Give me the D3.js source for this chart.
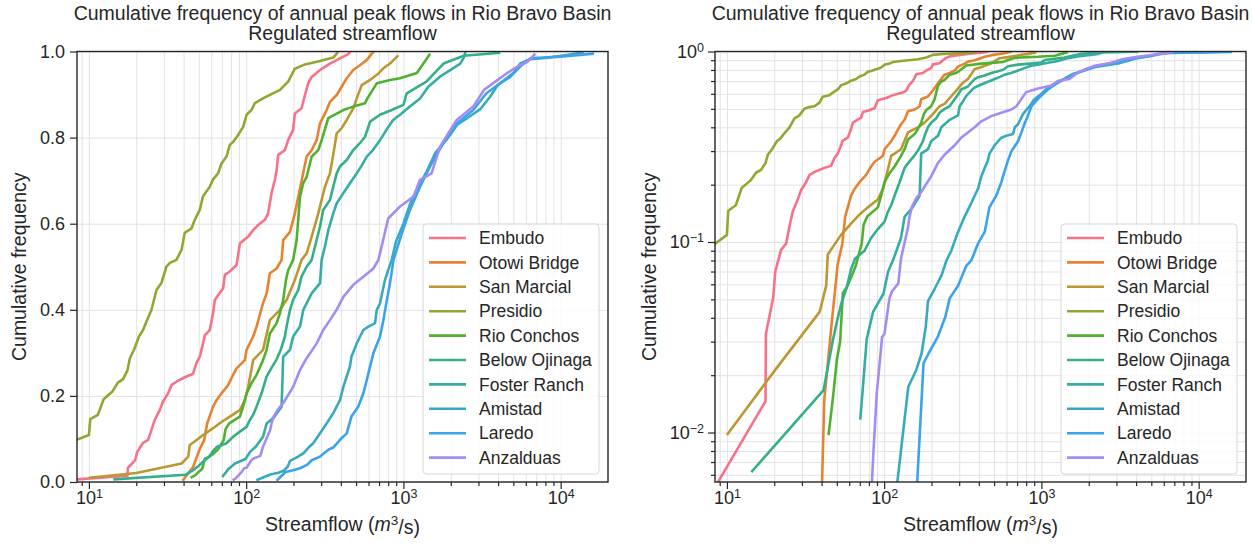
<!DOCTYPE html>
<html>
<head>
<meta charset="utf-8">
<script src="https://cdn.jsdelivr.net/npm/d3@7"></script>
<style>
  body { margin: 0; background: #ffffff; }
  svg { font-family: "Liberation Sans", Arial, Helvetica, sans-serif; }
  .tick text { font-family: "Liberation Sans", Arial, Helvetica, sans-serif; font-size: 18px; fill: #262626; }
  .grid line { stroke: #e3e3e3; stroke-width: 1; }
  .grid path { display: none; }
</style>
</head>
<body>
<svg id="chart" width="1252" height="548"></svg>
<script>
// Station names in legend order, with their line colours
const stationNames = ["Embudo", "Otowi Bridge", "San Marcial", "Presidio", "Rio Conchos",
  "Below Ojinaga", "Foster Ranch", "Amistad", "Laredo", "Anzalduas"];
const stationColors = ["#f77189", "#e68332", "#bb9832", "#97a431", "#50b131",
  "#34af8a", "#36ada4", "#38aabf", "#3ba3ec", "#a48cf4"];

// Empirical cumulative frequency of annual peak flows: [flow m3/s, cumulative frequency]
const embudo = [[7.0,0.004],[17.6,0.0146],[17.7,0.033],[19.7,0.051],[20.3,0.07],[22.1,0.091],[23.8,0.098],
  [25.0,0.121],[26.2,0.144],[28.2,0.167],[29.6,0.187],[31.9,0.206],[33.5,0.225],[36.0,0.233],[41.7,0.245],
  [45.9,0.251],[48.3,0.276],[50.7,0.291],[53.2,0.322],[54.6,0.341],[58.7,0.353],[61.6,0.392],[63.2,0.423],
  [66.3,0.434],[71.4,0.45],[73.2,0.481],[78.7,0.489],[86.9,0.504],[91.2,0.554],[103,0.57],[110.8,0.585],
  [119.2,0.597],[131.5,0.609],[138,0.624],[145,0.671],[152.4,0.702],[156.2,0.725],[159.9,0.76],[176.4,0.771],
  [185,0.794],[199,0.818],[204,0.856],[225,0.868],[236.6,0.899],[248,0.926],[261,0.941],[294.7,0.957],
  [341,0.972],[395,0.984],[446,0.994],[460,1.0]];
const otowiBridge = [[39.5,0.003],[41.6,0.0148],[46,0.035],[50.6,0.076],[54.2,0.098],[56.5,0.136],[61.6,0.175],
  [64.8,0.19],[69.7,0.206],[76.8,0.225],[82.6,0.249],[86.9,0.264],[98.1,0.283],[100.6,0.307],[110.8,0.338],
  [116.5,0.361],[122,0.388],[128,0.415],[134.9,0.438],[141.6,0.485],[156.2,0.496],[168.1,0.516],[172,0.562],
  [190,0.581],[204,0.624],[220,0.682],[242.5,0.756],[261,0.771],[280.7,0.794],[294.7,0.833],[325,0.864],
  [341,0.883],[376.5,0.899],[405,0.918],[436,0.938],[480,0.957],[529,0.968],[584,0.98],[629,0.995],[650,1.0]];
const sanMarcial = [[10,0.0097],[20,0.021],[38.9,0.043],[42.8,0.059],[43.8,0.086],[47.1,0.094],[53.2,0.109],
  [61.6,0.125],[70,0.14],[78.7,0.152],[91.2,0.167],[98.1,0.19],[103,0.221],[110.8,0.283],[128,0.307],
  [141.6,0.376],[164,0.40],[180.8,0.423],[204,0.469],[225,0.516],[242.5,0.531],[261,0.57],[287.5,0.624],
  [317,0.686],[341,0.717],[358,0.76],[376.5,0.81],[405,0.822],[436,0.841],[480,0.868],[505,0.891],
  [543,0.922],[614,0.934],[693,0.949],[746,0.961],[822,0.972],[929,0.991]];
const presidio = [[7.6,0.092],[10.0,0.109],[10.2,0.146],[11.4,0.156],[12.4,0.192],[14.1,0.21],[15.3,0.231],
  [16.5,0.239],[17.6,0.26],[18.2,0.287],[19.5,0.31],[20.8,0.338],[22.1,0.353],[23.2,0.372],[25.0,0.40],
  [26.9,0.446],[28.9,0.462],[31.1,0.50],[32.7,0.509],[36.0,0.516],[38.8,0.539],[40.7,0.579],[44.9,0.589],
  [47.1,0.609],[50.7,0.632],[53.2,0.664],[58.7,0.686],[61.6,0.703],[66.3,0.717],[69.7,0.74],[75.0,0.756],
  [78.7,0.783],[82.6,0.79],[88.9,0.806],[95.7,0.825],[100.6,0.853],[108,0.864],[113.6,0.88],[128,0.891],
  [164,0.911],[185,0.93],[204,0.96],[236.6,0.97],[294.7,0.978],[358,0.986],[385,0.999]];
const rioConchos = [[44.3,0.0097],[47.6,0.0161],[50,0.024],[52.5,0.03],[54.6,0.054],[58,0.058],[62.5,0.067],
  [66,0.075],[70,0.09],[72,0.098],[74,0.123],[78,0.136],[91.2,0.152],[95.7,0.175],[100.6,0.206],[108,0.229],
  [116.5,0.249],[128,0.283],[134.9,0.307],[141.6,0.345],[156.2,0.369],[164,0.392],[172,0.423],[179,0.469],
  [185,0.492],[199,0.516],[209.4,0.562],[220,0.663],[230.7,0.694],[242.5,0.709],[261,0.756],[287.5,0.771],
  [302,0.794],[332.8,0.845],[415,0.864],[480,0.872],[570,0.88],[590,0.891],[677,0.926],[822,0.934],
  [952,0.938],[1217,0.95],[1479,0.995]];
const belowOjinaga = [[14.3,0.0062],[41.2,0.0167],[47,0.03],[50,0.038],[53.2,0.047],[57.9,0.058],[61.6,0.072],
  [65.4,0.082],[75,0.09],[82.6,0.105],[91.2,0.117],[100.6,0.128],[105.6,0.144],[110.8,0.156],[116.5,0.175],
  [125.3,0.206],[134.9,0.245],[145,0.265],[156.2,0.285],[166,0.307],[176.4,0.338],[180.8,0.361],[190,0.40],
  [199,0.423],[214.4,0.446],[225,0.477],[242.5,0.50],[261,0.516],[274,0.547],[294.7,0.593],[309,0.632],
  [341,0.655],[358,0.686],[376.5,0.717],[395,0.733],[436,0.748],[480,0.771],[529,0.787],[570,0.802],
  [614,0.837],[710,0.853],[843,0.864],[1000,0.876],[1050,0.903],[1400,0.93],[1800,0.972],[2420,0.99],
  [4130,0.997]];
const fosterRanch = [[70.5,0.0117],[77.5,0.031],[85,0.043],[99,0.0535],[106,0.07],[115,0.082],[128,0.105],
  [135,0.136],[150,0.15],[168,0.175],[172,0.291],[190,0.307],[199,0.338],[220,0.361],[231,0.40],[261,0.438],
  [295,0.462],[302,0.516],[317,0.547],[333,0.585],[358,0.624],[376,0.647],[415,0.671],[457,0.694],
  [505,0.717],[545,0.736],[585,0.756],[640,0.771],[710,0.794],[780,0.818],[860,0.841],[952,0.853],
  [1100,0.872],[1276,0.891],[1440,0.918],[1700,0.941],[2300,0.972],[2420,0.986],[2480,0.999]];
const amistad = [[116,0.004],[142.5,0.0174],[160,0.0213],[173,0.026],[184,0.036],[190,0.049],[210,0.057],
  [232,0.067],[249,0.08],[267,0.09],[295,0.113],[325,0.136],[358,0.16],[376,0.175],[395,0.19],[415,0.221],
  [436,0.245],[457,0.268],[467,0.291],[505,0.322],[556,0.353],[599,0.361],[660,0.369],[677,0.40],
  [710,0.415],[763,0.469],[800,0.492],[843,0.516],[900,0.56],[1000,0.6],[1100,0.645],[1240,0.685],
  [1400,0.72],[1600,0.765],[1880,0.795],[2200,0.83],[2540,0.845],[3080,0.866],[3560,0.895],[3980,0.922],
  [5000,0.95],[5530,0.972],[6400,0.982],[8000,0.985],[10900,0.992],[14000,0.998]];
const laredo = [[156,0.003],[178,0.0231],[196,0.0269],[220,0.032],[245,0.0405],[261,0.0506],[295,0.059],
  [333,0.075],[358,0.08],[395,0.098],[436,0.113],[467,0.152],[516,0.175],[556,0.206],[585,0.237],
  [613,0.268],[644,0.299],[710,0.338],[746,0.376],[785,0.423],[822,0.462],[865,0.516],[980,0.579],
  [1100,0.632],[1276,0.686],[1478,0.733],[1890,0.802],[2180,0.833],[2780,0.864],[3370,0.903],[4127,0.926],
  [4780,0.941],[5530,0.965],[6400,0.984],[9950,0.988],[16300,0.995]];
const anzalduas = [[82,0.004],[85.4,0.0078],[89.7,0.016],[94,0.024],[97,0.0317],[100.5,0.033],[108,0.0506],
  [112,0.055],[123,0.0607],[128,0.082],[142,0.12],[145,0.136],[150,0.153],[160,0.17],[172,0.183],
  [199,0.221],[220,0.26],[242,0.287],[281,0.322],[309,0.353],[341,0.376],[376,0.40],[415,0.43],[480,0.458],
  [556,0.477],[644,0.496],[693,0.516],[710,0.531],[800,0.612],[952,0.64],[1160,0.663],[1276,0.702],
  [1510,0.717],[1710,0.779],[2180,0.841],[2780,0.872],[3260,0.911],[3980,0.934],[4570,0.95],[5300,0.965],
  [6140,0.976],[6900,0.995]];

const stationSeries = [embudo, otowiBridge, sanMarcial, presidio, rioConchos,
  belowOjinaga, fosterRanch, amistad, laredo, anzalduas];

// Axis ticks
const flowTicks = [10, 100, 1000, 10000];
const flowTickExponents = ["1", "2", "3", "4"];
const linearFreqTicks = [0, 0.2, 0.4, 0.6, 0.8, 1.0];
const logFreqTicks = [0.01, 0.1, 1];
const logFreqTickExponents = ["\u22122", "\u22121", "0"];

const titleLines = ["Cumulative frequency of annual peak flows in Rio Bravo Basin", "Regulated streamflow"];

// ---- layout ----
const svg = d3.select("#chart");
const ink = "#262626";
const flowDomain = [8.4, 20000];
const panels = [
  { id: "lin", left: 77, right: 608, top: 51.5, bottom: 482, logY: false },
  { id: "log", left: 715, right: 1246, top: 51.5, bottom: 482, logY: true }
];

function minorLogTicks(lo, hi) {
  const out = [];
  for (let e = -4; e <= 5; e++) {
    for (let m = 2; m <= 9; m++) {
      const v = m * Math.pow(10, e);
      if (v >= lo && v <= hi) out.push(v);
    }
  }
  return out;
}

function superscriptLabels(axisG, exps) {
  axisG.selectAll(".tick text").each(function (d, i) {
    const t = d3.select(this);
    t.text(null);
    t.append("tspan").text("10");
    t.append("tspan").attr("dy", "-0.5em").attr("font-size", "12.5px").style("font-size", "12.5px").text(exps[i]);
  });
}

panels.forEach(p => {
  const w = p.right - p.left, h = p.bottom - p.top;
  const g = svg.append("g").attr("transform", `translate(${p.left},${p.top})`);

  const x = d3.scaleLog().domain(flowDomain).range([0, w]);
  const y = p.logY
    ? d3.scaleLog().domain([0.0055, 1]).range([h, 0])
    : d3.scaleLinear().domain([0, 1]).range([h, 0]);

  const xMinor = minorLogTicks(flowDomain[0], flowDomain[1] * 0.999);

  // grid lines
  g.append("g").attr("class", "grid")
    .call(d3.axisBottom(x).tickValues(flowTicks.concat(xMinor)).tickSize(h).tickFormat(""));
  const yGridVals = p.logY ? logFreqTicks.concat(minorLogTicks(0.0055, 0.999)) : linearFreqTicks;
  g.append("g").attr("class", "grid")
    .call(d3.axisLeft(y).tickValues(yGridVals).tickSize(-w).tickFormat(""));

  // station curves
  const clipId = "clip-" + p.id;
  g.append("clipPath").attr("id", clipId)
    .append("rect").attr("width", w).attr("height", h);
  const line = d3.line().x(d => x(d[0])).y(d => y(d[1]));
  g.append("g").attr("clip-path", `url(#${clipId})`)
    .selectAll("path").data(stationSeries).join("path")
    .attr("d", line)
    .attr("fill", "none")
    .attr("stroke", (d, i) => stationColors[i])
    .attr("stroke-width", 2.6)
    .attr("stroke-linejoin", "round")
    .attr("stroke-linecap", "butt");

  // x axis: minor then major ticks
  const xMinorAxis = g.append("g").attr("transform", `translate(0,${h})`)
    .call(d3.axisBottom(x).tickValues(xMinor).tickSize(4).tickFormat(""));
  const xMajorAxis = g.append("g").attr("transform", `translate(0,${h})`)
    .call(d3.axisBottom(x).tickValues(flowTicks).tickSize(7).tickPadding(2).tickFormat(() => "x"));
  superscriptLabels(xMajorAxis, flowTickExponents);

  // y axis
  let yMajorAxis;
  if (p.logY) {
    g.append("g").call(d3.axisLeft(y).tickValues(minorLogTicks(0.0055, 0.999)).tickSize(4).tickFormat(""));
    yMajorAxis = g.append("g")
      .call(d3.axisLeft(y).tickValues(logFreqTicks).tickSize(7).tickPadding(4).tickFormat(() => "x"));
    superscriptLabels(yMajorAxis, logFreqTickExponents);
  } else {
    yMajorAxis = g.append("g")
      .call(d3.axisLeft(y).tickValues(linearFreqTicks).tickSize(7).tickPadding(5).tickFormat(d3.format(".1f")));
  }

  g.selectAll(".domain").remove();
  g.selectAll("g").filter(function () { return !this.classList.contains("grid"); })
    .attr("color", ink).attr("font-family", null).attr("font-size", null);
  g.selectAll("g:not(.grid) .tick line").attr("stroke-width", 1.2);

  // frame
  g.append("rect").attr("width", w).attr("height", h)
    .attr("fill", "none").attr("stroke", ink).attr("stroke-width", 1.4);

  // titles
  const cx = w / 2;
  titleLines.forEach((t, i) => {
    g.append("text").attr("x", cx).attr("y", -32 + i * 20)
      .attr("text-anchor", "middle").attr("font-size", 19.5).attr("fill", ink).text(t);
  });

  // axis labels
  const xl = g.append("text").attr("x", cx).attr("y", h + 49)
    .attr("text-anchor", "middle").attr("font-size", 19.5).attr("fill", ink);
  xl.append("tspan").text("Streamflow (");
  xl.append("tspan").attr("font-style", "italic").text("m");
  xl.append("tspan").attr("dy", "-0.45em").attr("font-size", 13.5).text("3");
  xl.append("tspan").attr("dy", "0.45em").text("/s)");

  g.append("text").attr("transform", `translate(${p.logY ? -59 : -51},${h / 2}) rotate(-90)`)
    .attr("text-anchor", "middle").attr("font-size", 19.5).attr("fill", ink)
    .text("Cumulative frequency");

  // legend
  const lg = g.append("g").attr("transform", `translate(${w - 185},${172.5})`);
  lg.append("rect").attr("width", 176).attr("height", 250).attr("rx", 3.5)
    .attr("fill", "#ffffff").attr("fill-opacity", 0.8)
    .attr("stroke", "#d6d6d6").attr("stroke-width", 1);
  stationNames.forEach((name, i) => {
    const yy = 14 + i * 24.4;
    lg.append("line").attr("x1", 6).attr("x2", 43).attr("y1", yy).attr("y2", yy)
      .attr("stroke", stationColors[i]).attr("stroke-width", 2.6);
    lg.append("text").attr("x", 56).attr("y", yy).attr("dy", "0.35em")
      .attr("font-size", 17.5).attr("fill", ink).text(name);
  });
});
</script>
</body>
</html>
